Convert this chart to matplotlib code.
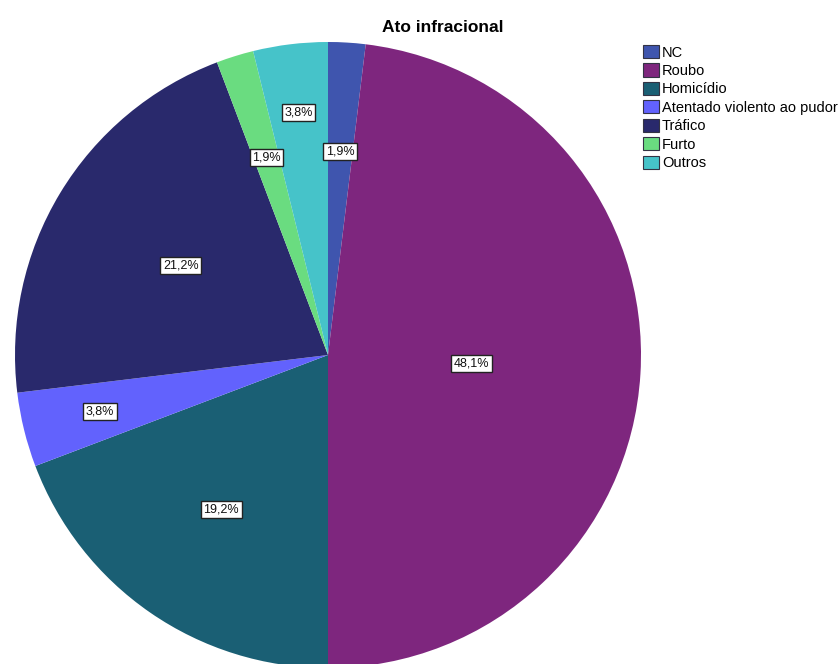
import numpy as np
import matplotlib.pyplot as plt
from matplotlib.patches import Patch

plt.rcParams['font.family'] = ['Liberation Sans', 'DejaVu Sans']

categories = ['NC', 'Roubo', 'Homicídio', 'Atentado violento ao pudor',
              'Tráfico', 'Furto', 'Outros']
counts = [1, 25, 10, 2, 11, 1, 2]
colors = ['#3F55AE', '#7E267E', '#1A5F74', '#6262FD',
          '#29296C', '#6ADC80', '#46C3C9']
# radial position of each percentage box (fraction of radius)
label_r = [0.65, 0.46, 0.60, 0.75, 0.55, 0.66, 0.78]

fig = plt.figure(figsize=(8.38, 6.64), dpi=100)
cx, cy, r = 328, 355, 313
ax = fig.add_axes([(cx - r) / 838, (664 - cy - r) / 664, 2 * r / 838, 2 * r / 664])

wedges, _ = ax.pie(counts, colors=colors, startangle=90, counterclock=False,
                   radius=1.0, wedgeprops=dict(linewidth=0))
ax.set_xlim(-1, 1)
ax.set_ylim(-1, 1)
ax.set_aspect('auto')
ax.axis('off')

total = sum(counts)
for w, c, lr in zip(wedges, counts, label_r):
    ang = np.deg2rad((w.theta1 + w.theta2) / 2)
    pct = '{:.1f}%'.format(100.0 * c / total).replace('.', ',')
    ax.text(lr * np.cos(ang), lr * np.sin(ang), pct, ha='center', va='center',
            fontsize=9, color='#111111',
            bbox=dict(boxstyle='square,pad=0.2', facecolor='white',
                      edgecolor='#222222', linewidth=1))

fig.text(443 / 838, 1 - 27 / 664, 'Ato infracional', ha='center', va='center',
         fontsize=12.5, fontweight='bold')

handles = [Patch(facecolor=col, edgecolor='#333344', linewidth=0.8) for col in colors]
fig.legend(handles, categories, loc='upper left',
           bbox_to_anchor=(643 / 838, 1 - 45 / 664), frameon=False,
           fontsize=10.5, handlelength=1.1, handleheight=1.0,
           handletextpad=0.2, labelspacing=0.27, borderaxespad=0,
           borderpad=0)

fig.savefig('out.png', dpi=100, facecolor='white')
